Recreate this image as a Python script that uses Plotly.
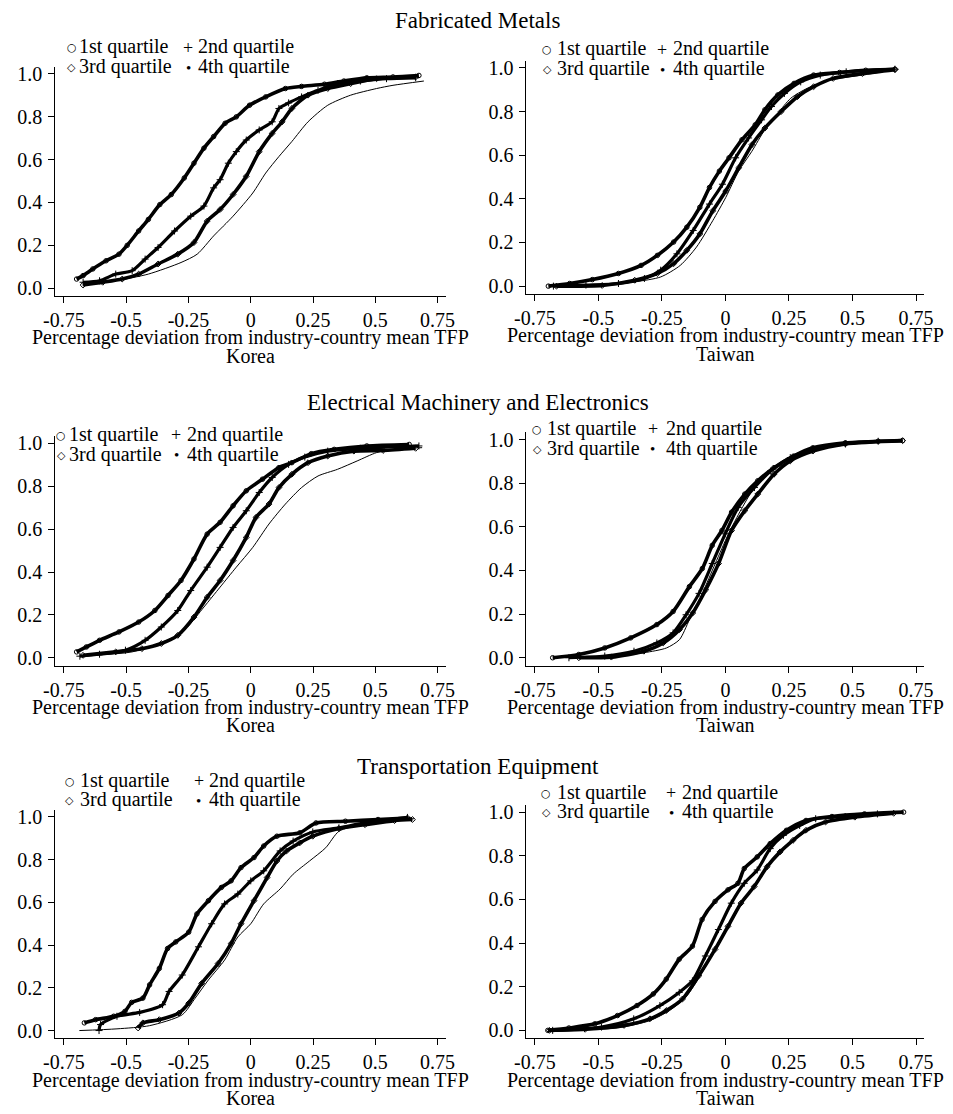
import plotly.graph_objects as go

# ---------------- data ----------------
quartile_names = ["1st quartile", "2nd quartile", "3rd quartile", "4th quartile"]
industry_titles = ["Fabricated Metals", "Electrical Machinery and Electronics", "Transportation Equipment"]
countries = ["Korea", "Taiwan"]
x_tick_vals = [-0.75, -0.5, -0.25, 0, 0.25, 0.5, 0.75]
x_tick_text = ["-0.75", "-0.5", "-0.25", "0", "0.25", "0.5", "0.75"]
y_tick_vals = [0.0, 0.2, 0.4, 0.6, 0.8, 1.0]
y_tick_text = ["0.0", "0.2", "0.4", "0.6", "0.8", "1.0"]

# Fabricated Metals - Korea
fm_kor_q1_x = [-0.699,-0.673,-0.634,-0.581,-0.529,-0.496,-0.450,-0.411,-0.365,-0.319,-0.267,-0.228,-0.188,-0.149,-0.103,-0.058,-0.005,0.060,0.139,0.204,0.296,0.374,0.466,0.571,0.675]
fm_kor_q1_y = [0.043,0.059,0.090,0.128,0.159,0.200,0.267,0.321,0.390,0.437,0.514,0.583,0.653,0.707,0.769,0.799,0.853,0.892,0.931,0.941,0.951,0.966,0.981,0.985,0.992]
fm_kor_q2_x = [-0.673,-0.607,-0.542,-0.476,-0.424,-0.372,-0.306,-0.241,-0.188,-0.149,-0.123,-0.090,-0.058,-0.018,0.034,0.086,0.113,0.152,0.204,0.270,0.348,0.440,0.545,0.662]
fm_kor_q2_y = [0.028,0.035,0.066,0.082,0.136,0.190,0.267,0.336,0.383,0.468,0.506,0.583,0.637,0.691,0.738,0.776,0.838,0.864,0.892,0.923,0.954,0.966,0.977,0.981]
fm_kor_q3_x = [-0.673,-0.594,-0.516,-0.450,-0.372,-0.293,-0.228,-0.175,-0.123,-0.071,-0.018,0.034,0.086,0.126,0.165,0.230,0.309,0.401,0.505,0.662]
fm_kor_q3_y = [0.015,0.028,0.043,0.066,0.113,0.159,0.213,0.313,0.367,0.437,0.522,0.637,0.722,0.776,0.838,0.900,0.931,0.954,0.977,0.985]
fm_kor_q4_x = [-0.673,-0.542,-0.411,-0.280,-0.215,-0.149,-0.071,0.008,0.060,0.113,0.165,0.230,0.309,0.401,0.505,0.571,0.695]
fm_kor_q4_y = [0.015,0.035,0.066,0.120,0.159,0.244,0.336,0.444,0.537,0.614,0.684,0.776,0.853,0.900,0.931,0.946,0.966]

# Fabricated Metals - Taiwan
fm_twn_q1_x = [-0.697,-0.613,-0.524,-0.421,-0.332,-0.268,-0.204,-0.152,-0.101,-0.063,-0.024,0.014,0.065,0.117,0.155,0.206,0.270,0.347,0.449,0.552,0.667]
fm_twn_q1_y = [0.0,0.012,0.030,0.058,0.095,0.141,0.202,0.270,0.361,0.452,0.527,0.588,0.671,0.739,0.808,0.876,0.929,0.967,0.979,0.989,0.994]
fm_twn_q2_x = [-0.677,-0.549,-0.421,-0.319,-0.255,-0.191,-0.127,-0.063,-0.012,0.040,0.091,0.142,0.181,0.232,0.296,0.373,0.475,0.667]
fm_twn_q2_y = [0.0,0.005,0.012,0.035,0.073,0.148,0.255,0.376,0.467,0.588,0.679,0.762,0.823,0.883,0.936,0.967,0.982,0.994]
fm_twn_q3_x = [-0.665,-0.485,-0.357,-0.268,-0.204,-0.152,-0.101,-0.050,0.001,0.052,0.104,0.155,0.219,0.283,0.347,0.424,0.539,0.667]
fm_twn_q3_y = [0.0,0.003,0.027,0.058,0.103,0.164,0.239,0.345,0.436,0.542,0.648,0.724,0.800,0.868,0.914,0.952,0.974,0.992]
fm_twn_q4_x = [-0.549,-0.357,-0.255,-0.178,-0.114,-0.050,0.001,0.052,0.104,0.155,0.206,0.257,0.321,0.411,0.539,0.667]
fm_twn_q4_y = [0.0,0.020,0.042,0.095,0.179,0.300,0.406,0.527,0.618,0.717,0.792,0.861,0.906,0.944,0.967,0.992]

# Electrical Machinery and Electronics - Korea
em_kor_q1_x = [-0.699,-0.660,-0.607,-0.529,-0.450,-0.385,-0.332,-0.280,-0.228,-0.175,-0.123,-0.071,-0.018,0.047,0.113,0.165,0.243,0.335,0.466,0.636]
em_kor_q1_y = [0.028,0.051,0.082,0.121,0.167,0.221,0.291,0.361,0.461,0.577,0.632,0.709,0.779,0.833,0.887,0.910,0.952,0.972,0.988,0.995]
em_kor_q2_x = [-0.686,-0.607,-0.503,-0.424,-0.359,-0.293,-0.241,-0.175,-0.123,-0.071,-0.018,0.034,0.086,0.152,0.217,0.309,0.440,0.675]
em_kor_q2_y = [0.008,0.017,0.036,0.082,0.144,0.221,0.314,0.423,0.515,0.608,0.686,0.771,0.841,0.902,0.936,0.964,0.977,0.988]
em_kor_q3_x = [-0.673,-0.542,-0.437,-0.359,-0.293,-0.228,-0.175,-0.123,-0.071,-0.018,0.021,0.073,0.113,0.165,0.230,0.309,0.414,0.531,0.662]
em_kor_q3_y = [0.012,0.028,0.043,0.067,0.105,0.190,0.283,0.361,0.454,0.562,0.655,0.717,0.794,0.856,0.910,0.941,0.964,0.967,0.977]
em_kor_q4_x = [-0.673,-0.476,-0.306,-0.254,-0.188,-0.123,-0.058,0.008,0.073,0.139,0.204,0.270,0.348,0.427,0.505,0.571,0.688]
em_kor_q4_y = [0.012,0.028,0.098,0.144,0.237,0.330,0.423,0.515,0.624,0.717,0.794,0.848,0.879,0.918,0.957,0.972,0.980]

# Electrical Machinery and Electronics - Taiwan
em_twn_q1_x = [-0.680,-0.577,-0.475,-0.373,-0.270,-0.206,-0.142,-0.091,-0.052,-0.014,0.024,0.076,0.127,0.191,0.268,0.344,0.472,0.601,0.697]
em_twn_q1_y = [0.0,0.015,0.045,0.091,0.152,0.212,0.326,0.409,0.515,0.583,0.667,0.750,0.811,0.871,0.924,0.962,0.985,0.992,0.995]
em_twn_q2_x = [-0.616,-0.475,-0.360,-0.270,-0.206,-0.155,-0.104,-0.052,-0.001,0.050,0.114,0.178,0.255,0.344,0.472,0.601]
em_twn_q2_y = [0.0,0.008,0.030,0.068,0.114,0.197,0.295,0.432,0.568,0.689,0.780,0.856,0.917,0.955,0.980,0.992]
em_twn_q3_x = [-0.577,-0.449,-0.321,-0.245,-0.181,-0.129,-0.078,-0.027,0.024,0.076,0.127,0.191,0.255,0.344,0.472,0.697]
em_twn_q3_y = [0.0,0.003,0.030,0.068,0.129,0.205,0.311,0.432,0.583,0.674,0.750,0.841,0.902,0.947,0.980,0.995]
em_twn_q4_x = [-0.488,-0.321,-0.232,-0.181,-0.142,-0.091,-0.040,0.012,0.063,0.114,0.178,0.242,0.319,0.472,0.697]
em_twn_q4_y = [0.0,0.023,0.045,0.083,0.174,0.295,0.432,0.568,0.682,0.780,0.856,0.894,0.947,0.977,0.995]

# Transportation Equipment - Korea
te_kor_q1_x = [-0.668,-0.623,-0.550,-0.505,-0.478,-0.433,-0.406,-0.367,-0.334,-0.301,-0.249,-0.216,-0.170,-0.118,-0.079,-0.039,0.013,0.052,0.105,0.197,0.262,0.380,0.511,0.629]
te_kor_q1_y = [0.036,0.051,0.067,0.090,0.132,0.152,0.214,0.291,0.384,0.415,0.461,0.546,0.608,0.670,0.701,0.763,0.810,0.864,0.910,0.926,0.972,0.980,0.988,0.995]
te_kor_q2_x = [-0.609,-0.603,-0.537,-0.446,-0.354,-0.328,-0.275,-0.210,-0.157,-0.105,-0.052,0.000,0.052,0.118,0.170,0.249,0.354,0.459,0.629]
te_kor_q2_y = [0.0,0.028,0.067,0.085,0.121,0.183,0.260,0.392,0.500,0.593,0.639,0.701,0.748,0.841,0.887,0.930,0.949,0.972,0.998]
te_kor_q3_x = [-0.452,-0.433,-0.367,-0.288,-0.249,-0.197,-0.131,-0.079,-0.039,0.013,0.066,0.105,0.144,0.197,0.249,0.354,0.459,0.577,0.649]
te_kor_q3_y = [0.012,0.036,0.051,0.082,0.128,0.221,0.314,0.407,0.500,0.608,0.717,0.794,0.841,0.879,0.910,0.946,0.964,0.983,0.988]
te_kor_q4_x = [-0.688,-0.537,-0.406,-0.275,-0.223,-0.170,-0.105,-0.052,0.000,0.052,0.118,0.170,0.236,0.301,0.354,0.446,0.577,0.655]
te_kor_q4_y = [0.0,0.008,0.023,0.074,0.152,0.237,0.330,0.438,0.500,0.593,0.663,0.732,0.794,0.856,0.933,0.964,0.980,0.992]

# Transportation Equipment - Taiwan
te_twn_q1_x = [-0.699,-0.616,-0.514,-0.425,-0.348,-0.284,-0.233,-0.182,-0.130,-0.092,-0.041,0.010,0.049,0.074,0.125,0.176,0.240,0.317,0.419,0.547,0.701]
te_twn_q1_y = [0.0,0.011,0.030,0.068,0.114,0.167,0.235,0.326,0.386,0.508,0.591,0.644,0.674,0.742,0.795,0.856,0.917,0.962,0.980,0.992,1.0]
te_twn_q2_x = [-0.680,-0.488,-0.361,-0.258,-0.182,-0.130,-0.079,-0.028,0.023,0.074,0.125,0.176,0.228,0.292,0.355,0.471,0.598]
te_twn_q2_y = [0.0,0.015,0.053,0.114,0.174,0.227,0.341,0.462,0.583,0.674,0.735,0.833,0.894,0.939,0.970,0.980,0.992]
te_twn_q3_x = [-0.693,-0.552,-0.399,-0.297,-0.233,-0.169,-0.105,-0.041,0.010,0.061,0.113,0.164,0.215,0.266,0.317,0.394,0.509,0.662]
te_twn_q3_y = [0.0,0.005,0.023,0.053,0.091,0.144,0.250,0.371,0.477,0.583,0.659,0.750,0.818,0.871,0.917,0.955,0.977,0.995]
te_twn_q4_x = [-0.655,-0.425,-0.297,-0.220,-0.156,-0.092,-0.035,0.017,0.068,0.119,0.170,0.221,0.272,0.330,0.407,0.522,0.701]
te_twn_q4_y = [0.0,0.011,0.045,0.091,0.152,0.265,0.386,0.485,0.591,0.667,0.753,0.823,0.874,0.920,0.959,0.977,1.0]

panel_series = [
    [(fm_kor_q1_x, fm_kor_q1_y), (fm_kor_q2_x, fm_kor_q2_y), (fm_kor_q3_x, fm_kor_q3_y), (fm_kor_q4_x, fm_kor_q4_y)],
    [(fm_twn_q1_x, fm_twn_q1_y), (fm_twn_q2_x, fm_twn_q2_y), (fm_twn_q3_x, fm_twn_q3_y), (fm_twn_q4_x, fm_twn_q4_y)],
    [(em_kor_q1_x, em_kor_q1_y), (em_kor_q2_x, em_kor_q2_y), (em_kor_q3_x, em_kor_q3_y), (em_kor_q4_x, em_kor_q4_y)],
    [(em_twn_q1_x, em_twn_q1_y), (em_twn_q2_x, em_twn_q2_y), (em_twn_q3_x, em_twn_q3_y), (em_twn_q4_x, em_twn_q4_y)],
    [(te_kor_q1_x, te_kor_q1_y), (te_kor_q2_x, te_kor_q2_y), (te_kor_q3_x, te_kor_q3_y), (te_kor_q4_x, te_kor_q4_y)],
    [(te_twn_q1_x, te_twn_q1_y), (te_twn_q2_x, te_twn_q2_y), (te_twn_q3_x, te_twn_q3_y), (te_twn_q4_x, te_twn_q4_y)],
]

# ---------------- layout geometry (page pixels) ----------------
PAGE_W, PAGE_H = 953, 1114
OFF = 8                      # default body margin of the html page
W, H = PAGE_W - OFF, PAGE_H - OFF
FONT = "Liberation Serif, Times New Roman, serif"
SYMFONT = "DejaVu Sans, Liberation Serif"

# (left, right, top, bottom) of each plot area in page pixels
panel_boxes = [
    (44, 444, 63, 294), (526, 933, 57, 292),
    (44, 444, 435, 666), (526, 933, 431, 666),
    (44, 444, 811, 1041), (526, 933, 806, 1041),
]
x_ranges = [[-0.785, 0.785], [-0.783, 0.783]]
y_range = [-0.037, 1.033]

line_widths = [3.6, 3.2, 3.6, 1.0]
marker_symbols = ["circle-open", "cross-thin-open", "diamond-open", "circle"]
marker_sizes = [4.5, 5, 4.5, 0]

# legend placement: (sym col1 cx, text col1 x, sym col2 cx, text col2 x, row1 y, row2 y)
legend_pos = [
    (61, 66, 180, 188, 43, 63),
    (547, 555, 665, 674, 45, 65),
    (50, 56, 168, 177, 433, 453),
    (537, 545, 655, 667, 427, 447),
    (59, 67, 191, 199, 781, 801),
    (546, 555, 674, 683, 793, 813),
]
legend_symbols = ["○", "+", "◇", "•"]
legend_sym_fonts = [SYMFONT, FONT, SYMFONT, FONT]
legend_sym_sizes = [11, 18, 11, 15]
title_y = [17, 401, 767]


def px_x(p):
    return (p - OFF) / W


def px_y(p):
    return 1 - (p - OFF) / H


fig = go.Figure()
layout_axes = {}
annotations = []

for i, series in enumerate(panel_series):
    n = i + 1
    xa = "x" if n == 1 else f"x{n}"
    ya = "y" if n == 1 else f"y{n}"
    l, r, t, b = panel_boxes[i]
    col = i % 2
    for q, (xs, ys) in enumerate(series):
        fig.add_trace(go.Scatter(
            x=xs, y=ys, xaxis=xa, yaxis=ya,
            mode="lines+markers" if marker_sizes[q] > 0 else "lines",
            line=dict(color="black", width=line_widths[q], shape="spline", smoothing=0.7),
            marker=dict(symbol=marker_symbols[q], size=marker_sizes[q], color="black",
                        line=dict(color="black", width=1)),
            name=quartile_names[q], showlegend=False,
        ))
    axis_common = dict(
        showline=True, linecolor="black", linewidth=1, ticks="outside", ticklen=6,
        tickwidth=1, tickcolor="black", showgrid=False, zeroline=False,
        tickfont=dict(family=FONT, size=20, color="black"),
    )
    layout_axes["xaxis" if n == 1 else f"xaxis{n}"] = dict(
        axis_common, domain=[px_x(l), px_x(r)], range=x_ranges[col],
        anchor=ya, tickvals=x_tick_vals, ticktext=x_tick_text, ticklabelstandoff=0,
    )
    layout_axes["yaxis" if n == 1 else f"yaxis{n}"] = dict(
        axis_common, domain=[px_y(b), px_y(t)], range=y_range,
        anchor=xa, tickvals=y_tick_vals, ticktext=y_tick_text, ticklabelstandoff=2,
    )
    # axis title and country label
    cx = (l + r) / 2
    annotations.append(dict(text="Percentage deviation from industry-country mean TFP",
                            x=px_x(cx), y=px_y(b + 42), xref="paper", yref="paper",
                            xanchor="center", yanchor="middle", showarrow=False,
                            font=dict(family=FONT, size=20, color="black")))
    annotations.append(dict(text=countries[col],
                            x=px_x(cx), y=px_y(b + 60), xref="paper", yref="paper",
                            xanchor="center", yanchor="middle", showarrow=False,
                            font=dict(family=FONT, size=20, color="black")))
    # legend
    s1, t1, s2, t2, r1, r2 = legend_pos[i]
    entries = [(s1, t1, r1), (s2, t2, r1), (s1, t1, r2), (s2, t2, r2)]
    for q, (sx, tx, ry) in enumerate(entries):
        annotations.append(dict(text=legend_symbols[q], x=px_x(sx), y=px_y(ry + 1),
                                xref="paper", yref="paper", xanchor="center", yanchor="middle",
                                showarrow=False,
                                font=dict(family=legend_sym_fonts[q], size=legend_sym_sizes[q], color="black")))
        annotations.append(dict(text=quartile_names[q], x=px_x(tx), y=px_y(ry),
                                xref="paper", yref="paper", xanchor="left", yanchor="middle",
                                showarrow=False, font=dict(family=FONT, size=20, color="black")))

for k, ttl in enumerate(industry_titles):
    annotations.append(dict(text=ttl, x=px_x(476), y=px_y(title_y[k]), xref="paper", yref="paper",
                            xanchor="center", yanchor="middle", showarrow=False,
                            font=dict(family=FONT, size=23, color="black")))

fig.update_layout(
    width=W, height=H, margin=dict(l=0, r=0, t=0, b=0),
    paper_bgcolor="white", plot_bgcolor="white", showlegend=False,
    annotations=annotations, **layout_axes,
)

fig.write_html("out.html")
